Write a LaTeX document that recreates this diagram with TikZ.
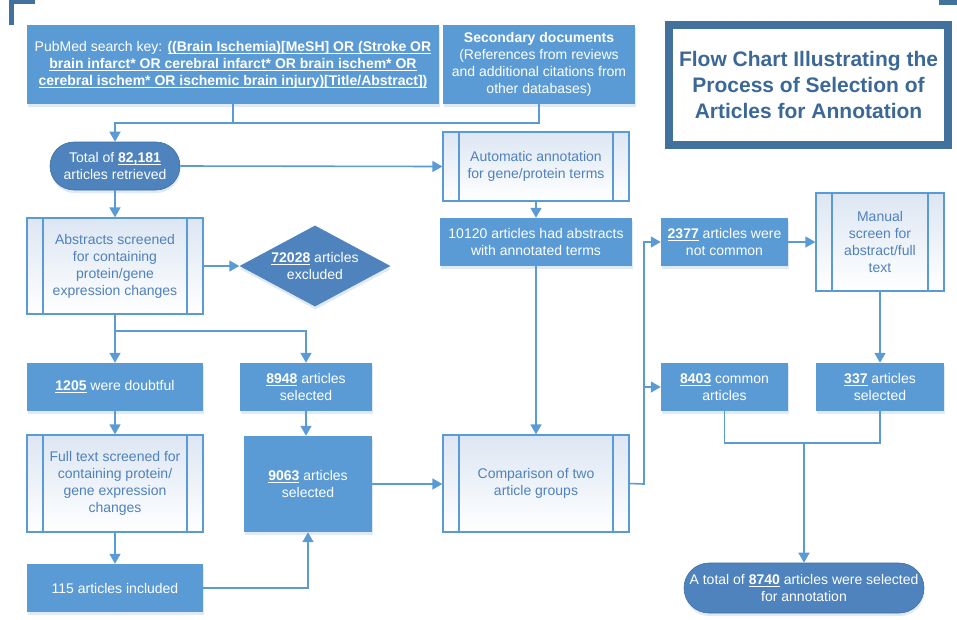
\documentclass[tikz,border=0pt]{standalone}
\usepackage{fontspec}
\setmainfont{Liberation Sans}
\usetikzlibrary{shapes.geometric,arrows.meta,shadows}

\definecolor{boxblue}{RGB}{91,155,213}
\definecolor{termblue}{RGB}{78,131,189}
\definecolor{frameblue}{RGB}{65,113,156}
\definecolor{titleblue}{RGB}{60,104,152}
\definecolor{textblue}{RGB}{79,129,189}
\definecolor{paleblue}{RGB}{220,230,243}
\definecolor{shadowblue}{RGB}{224,234,246}

% bold, underlined numbers and search terms
\newsavebox\ulbox
\newcommand\ulx[1]{\sbox\ulbox{\bfseries #1}\rlap{\rule[-2.4pt]{\wd\ulbox}{0.9pt}}\usebox\ulbox}

\tikzset{
  basefont/.style={font=\fontsize{14}{17}\selectfont},
  solidbox/.style={basefont, fill=boxblue, text=white, align=center, inner sep=0pt,
    drop shadow={shadow xshift=0.5pt, shadow yshift=-3pt, fill=shadowblue, opacity=1}},
  termbox/.style={solidbox, fill=termblue, draw=termblue!85!black, line width=0.6pt},
  predef/.style={basefont, draw=boxblue, line width=1.3pt, top color=paleblue, bottom color=white,
    text=textblue, align=center, inner sep=0pt,
    path picture={
      \draw[boxblue, line width=1.3pt]
        ([xshift=16pt]path picture bounding box.north west) -- ([xshift=16pt]path picture bounding box.south west)
        ([xshift=-16pt]path picture bounding box.north east) -- ([xshift=-16pt]path picture bounding box.south east);
    }},
  conn/.style={draw=boxblue, line width=1.6pt},
  arr/.style={conn, -{Triangle[length=10pt,width=11pt]}},
}

\begin{document}
\begin{tikzpicture}[x=1pt, y=-1pt]
\useasboundingbox (0,0) rectangle (957,619);

% corner brackets
\fill[frameblue] (9,0) rectangle (14,25);
\fill[frameblue] (9,0) rectangle (35,4);
\fill[frameblue] (939,0) rectangle (957,5);

% title
\node[draw=frameblue, line width=8pt, fill=white, text=titleblue, align=center,
      font=\fontsize{21}{26}\selectfont\bfseries, minimum width=279pt, minimum height=120pt,
      drop shadow={shadow xshift=1pt, shadow yshift=-3pt, fill=shadowblue, opacity=1}]
  (title) at (808.5,85) {Flow Chart Illustrating the\\Process of Selection of\\Articles for Annotation};

% sources
\node[solidbox, minimum width=412pt, minimum height=79pt] (pub) at (233,64.5)
  {PubMed search key: \ulx{((Brain Ischemia)[MeSH] OR (Stroke OR}\\
   \ulx{brain infarct* OR cerebral infarct* OR brain ischem* OR}\\
   \ulx{cerebral ischem* OR ischemic brain injury)[Title/Abstract])}};
\node[solidbox, minimum width=192pt, minimum height=79pt] (sec) at (539,64.5)
  {\textbf{Secondary documents}\\(References from reviews\\and additional citations from\\other databases)};

% left branch
\node[termbox, minimum width=130pt, minimum height=48pt, rounded corners=24pt] (total) at (115,166)
  {Total of \ulx{82,181}\\articles retrieved};
\node[predef, minimum width=176pt, minimum height=96pt] (abs) at (115,266)
  {Abstracts screened\\for containing\\protein/gene\\expression changes};
\node[basefont, shape=diamond, fill=termblue, text=white, align=center, aspect=1.86, inner sep=-3pt,
      minimum width=151pt, minimum height=81pt,
      drop shadow={shadow xshift=0.5pt, shadow yshift=-3pt, fill=shadowblue, opacity=1}]
  (excl) at (315,266) {\ulx{72028} articles\\excluded};
\node[solidbox, minimum width=176pt, minimum height=48pt] (doubt) at (115,387) {\ulx{1205} were doubtful};
\node[solidbox, minimum width=132pt, minimum height=48pt] (sel8948) at (306,387) {\ulx{8948} articles\\selected};
\node[predef, minimum width=176pt, minimum height=97pt] (full) at (115,483.5)
  {Full text screened for\\containing protein/\\gene expression\\changes};
\node[solidbox, minimum width=128pt, minimum height=96pt] (sel9063) at (308,484) {\ulx{9063} articles\\selected};
\node[solidbox, minimum width=176pt, minimum height=48pt] (incl) at (115,588) {115 articles included};

% middle branch
\node[predef, minimum width=186pt, minimum height=69pt] (auto) at (536,166.5)
  {Automatic annotation\\for gene/protein terms};
\node[solidbox, minimum width=192pt, minimum height=48pt] (annot) at (536,242)
  {10120 articles had abstracts\\with annotated terms};
\node[predef, minimum width=186pt, minimum height=97pt] (comp) at (536,483.5)
  {Comparison of two\\article groups};

% right branch
\node[solidbox, minimum width=127pt, minimum height=48pt] (notcom) at (724.5,242) {\ulx{2377} articles were\\not common};
\node[predef, minimum width=128pt, minimum height=98pt] (manual) at (880,242)
  {Manual\\screen for\\abstract/full\\text};
\node[solidbox, minimum width=127pt, minimum height=48pt] (common) at (724.5,387) {\ulx{8403} common\\articles};
\node[solidbox, minimum width=128pt, minimum height=48pt] (sel337) at (880,387) {\ulx{337} articles\\selected};
\node[termbox, minimum width=240pt, minimum height=50pt, rounded corners=25pt] (final) at (804,588)
  {A total of \ulx{8740} articles were selected\\for annotation};

% junction points
\coordinate (jtop) at (233,123);
\coordinate (jabs) at (115,331);
\coordinate (jcmp) at (644,484);
\coordinate (jbot) at (804,443);

% connectors
\draw[conn] (pub.south) -- (jtop);
\draw[arr] (sec.south) |- (jtop) -| (total.north);
\draw[arr] (total.east) -- (auto.west);
\draw[arr] (total.south) -- (abs.north);
\draw[arr] (abs.east) -- (excl.west);
\draw[arr] (abs.south) -- (jabs) -- (doubt.north);
\draw[arr] (jabs) -| (sel8948.north);
\draw[arr] (doubt.south) -- (full.north);
\draw[arr] (full.south) -- (incl.north);
\draw[arr] (sel8948.south) -- (sel8948.south |- sel9063.north);
\draw[arr] (incl.east) -| (sel9063.south);
\draw[arr] (sel9063.east) -- (sel9063.east -| comp.west);
\draw[arr] (auto.south) -- (annot.north);
\draw[arr] (annot.south) -- (comp.north);
\draw[arr] (comp.east) -- (jcmp) |- (notcom.west);
\draw[arr] (jcmp) |- (common.west);
\draw[arr] (notcom.east) -- (manual.west);
\draw[arr] (manual.south) -- (sel337.north);
\draw[conn] (common.south) |- (jbot) -| (sel337.south);
\draw[arr] (jbot) -- (final.north);
\end{tikzpicture}
\end{document}
